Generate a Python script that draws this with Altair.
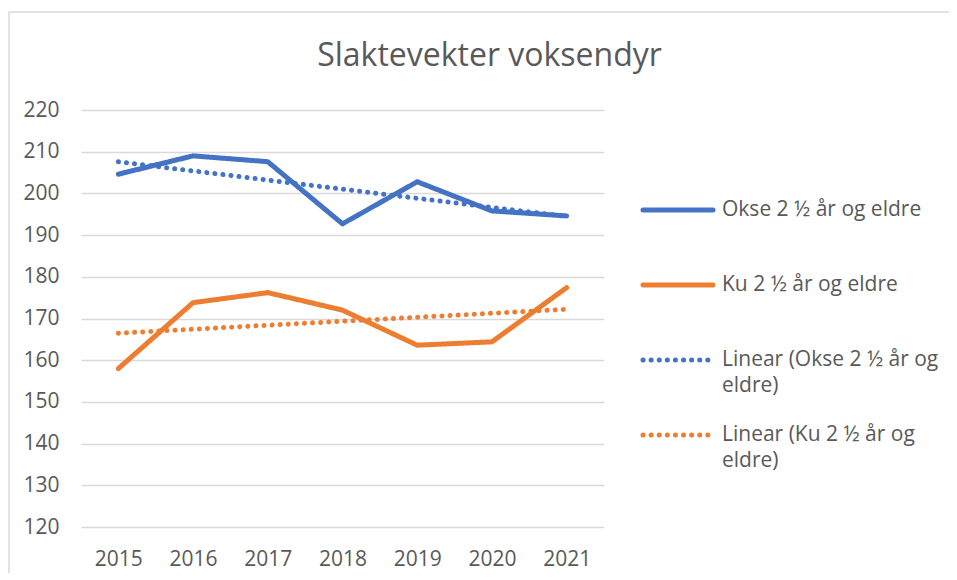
import altair as alt
import pandas as pd

# ---- data ----
years = [2015, 2016, 2017, 2018, 2019, 2020, 2021]
okse = [204.6, 209.0, 207.6, 192.7, 202.8, 195.8, 194.6]
ku = [158.0, 173.8, 176.2, 172.0, 163.6, 164.4, 177.4]
series_names = ["Okse 2 ½ år og eldre", "Ku 2 ½ år og eldre"]
trend_names = ["Linear (Okse 2 ½ år og eldre)", "Linear (Ku 2 ½ år og eldre)"]
y_ticks = [120, 130, 140, 150, 160, 170, 180, 190, 200, 210, 220]
chart_title = ["Slaktevekter voksendyr"]

# ---- styles ----
BLUE, ORANGE = "#4472C4", "#ED7D31"
TEXT = "#595959"
GRID = "#D9D9D9"
FONT = "Open Sans"
W, H = 523, 417

df = pd.DataFrame({
    "year": years * 2,
    "value": okse + ku,
    "series": [series_names[0]] * len(years) + [series_names[1]] * len(years),
})

all_series = series_names + trend_names
color_scale = alt.Scale(domain=all_series, range=[BLUE, ORANGE, BLUE, ORANGE])
dash_scale = alt.Scale(domain=all_series, range=[[1, 0], [1, 0], [0.1, 8], [0.1, 8]])
width_scale = alt.Scale(domain=all_series, range=[5, 5, 3.5, 3.5])
y_scale = alt.Scale(domain=[y_ticks[0], y_ticks[-1]], nice=False, zero=False)

enc_style = dict(
    color=alt.Color("series:N", scale=color_scale, legend=None),
    strokeDash=alt.StrokeDash("series:N", scale=dash_scale, legend=None),
    strokeWidth=alt.StrokeWidth("series:N", scale=width_scale, legend=None),
)

x_enc = alt.X("year:O", title=None,
              axis=alt.Axis(labelAngle=0, grid=False, domain=False, ticks=False,
                            tickSize=0, labelPadding=21))

main = alt.Chart(df).mark_line(strokeCap="round", strokeJoin="round").encode(
    x=x_enc,
    y=alt.Y("value:Q", scale=y_scale, title=None,
            axis=alt.Axis(values=y_ticks, grid=True, gridColor=GRID, gridWidth=1.3,
                          domain=False, ticks=False, tickSize=0, labelPadding=22)),
    **enc_style,
)

trend = (
    alt.Chart(df)
    .transform_regression("year", "value", groupby=["series"])
    .transform_calculate(series="'Linear (' + datum.series + ')'")
    .mark_line(strokeCap="round")
    .encode(
        x=alt.X("year:O"),
        y=alt.Y("value:Q", scale=y_scale, axis=None),
        **enc_style,
    )
)

# ---- legend (drawn from the series list) ----
def wrap(name):
    if name.startswith("Linear"):
        head, tail = name.rsplit(" ", 1)
        return head + "\n" + tail
    return name

leg_df = pd.DataFrame({"series": all_series, "label": [wrap(s) for s in all_series]})
leg_y = alt.Y("series:N", axis=None,
              scale=alt.Scale(type="point", domain=all_series, range=[100, 325], padding=0))

leg_rules = alt.Chart(leg_df).mark_rule(strokeCap="round").encode(
    x=alt.value(562), x2=alt.value(632), y=leg_y, **enc_style
)
leg_text = alt.Chart(leg_df).mark_text(
    align="left", baseline="middle", lineBreak="\n", lineHeight=26,
    font=FONT, fontSize=21, color=TEXT,
).encode(x=alt.value(641), y=leg_y, text="label:N")

# ---- title ----
title_df = pd.DataFrame({"t": chart_title})
title_mark = alt.Chart(title_df).mark_text(
    font=FONT, fontSize=32, color=TEXT, align="center", baseline="alphabetic"
).encode(x=alt.value(408.5), y=alt.value(-44), text="t:N")

# ---- chart frame (Excel-style border) ----
frame_df = pd.DataFrame({"k": [0]})
border_top = alt.Chart(frame_df).mark_rule(color=GRID, strokeWidth=1.5).encode(
    x=alt.value(-72), x2=alt.value(900), y=alt.value(-98)
)
border_left = alt.Chart(frame_df).mark_rule(color=GRID, strokeWidth=1.5).encode(
    x=alt.value(-72), y=alt.value(-98), y2=alt.value(470)
)

chart = (
    alt.layer(border_top, border_left, main, trend, leg_rules, leg_text, title_mark)
    .resolve_scale(y="independent")
    .properties(
        width=W, height=H,
        autosize=alt.AutoSizeParams(type="none"),
        padding={"left": 73, "top": 102, "right": 345, "bottom": 46},
    )
    .configure_view(stroke=None)
    .configure_axis(labelFont=FONT, labelFontSize=21, labelColor=TEXT)
)

chart.save("out.html", embed_options={"renderer": "svg", "actions": False})
